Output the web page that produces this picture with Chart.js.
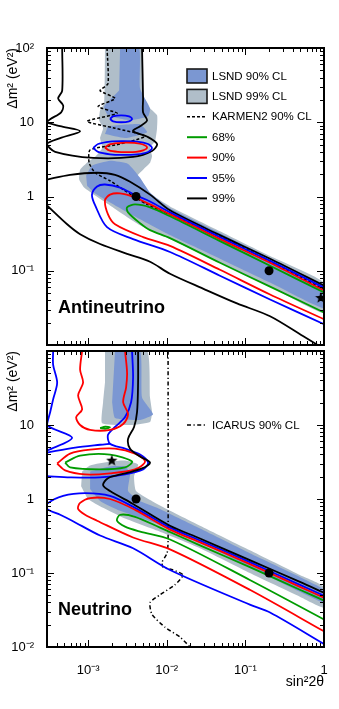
<!DOCTYPE html>
<html><head><meta charset="utf-8">
<script src="https://cdn.jsdelivr.net/npm/chart.js@4.4.1/dist/chart.umd.min.js"></script>
<style>
html,body{margin:0;padding:0;background:#fff;}
#wrap{position:relative;width:339px;height:709px;overflow:hidden;background:#fff;}
canvas{position:absolute;left:0;}
</style>
</head><body>
<div id="wrap">
<canvas id="cTop" width="339" height="352" style="top:0px;width:339px;height:352px"></canvas>
<canvas id="cBot" width="339" height="365" style="top:344px;width:339px;height:365px"></canvas>
</div>
<script>
// ---------- axis ranges and tick labels ----------
const xMin = 3.0e-4, xMax = 1;
const yMin = 0.01, yMax = 100;
const xTickValues = [1e-3, 1e-2, 1e-1, 1];
const xTickLabels = ['10⁻³', '10⁻²', '10⁻¹', '1'];
const yTickValuesTop = [0.1, 1, 10, 100];
const yTickLabelsTop = ['10⁻¹', '1', '10', '10²'];
const yTickValuesBot = [0.01, 0.1, 1, 10];
const yTickLabelsBot = ['10⁻²', '10⁻¹', '1', '10'];

// ---------- Antineutrino panel: [sin²2θ, Δm²] ----------
const antiLsnd99 = [[1.64e-3,100],[1.60e-3,17.9],[1.42e-3,14.5],[1.38e-3,10.6],[1.55e-3,8.32],[1.42e-3,6.12],[1.51e-3,4.5],[1.26e-3,3.52],[1.0e-3,2.93],[7.91e-4,2.29],[7.7e-4,1.69],[8.9e-4,1.32],[1.23e-3,1.03],[1.9e-3,0.759],[4.58e-3,0.41],[1.1e-2,0.267],[4.75e-2,0.128],[0.206,0.0612],[1.0,0.0267],[1.0,0.0692],[0.206,0.158],[4.75e-2,0.341],[1.1e-2,0.736],[5.3e-3,1.2],[3.95e-3,1.74],[5.0e-3,2.29],[6.13e-3,2.84],[6.5e-3,3.52],[6.13e-3,4.5],[7.1e-3,5.58],[7.53e-3,8.32],[7.53e-3,12.4],[5.79e-3,16.3],[5.0e-3,20.9],[4.85e-3,100]];
const antiLsnd90Strip = [[2.55e-3,100],[4.45e-3,100],[4.58e-3,28.4],[6.13e-3,15.4],[5.79e-3,12.0],[3.42e-3,10.6],[1.79e-3,12.4],[1.6e-3,16.3],[2.48e-3,26.7]];
const antiLsnd90Patch = [[1.79e-3,8.85],[4.58e-3,9.4],[5.62e-3,7.36],[2.95e-3,6.12],[1.64e-3,6.92]];
const antiLsnd90Band = [[9.44e-4,1.91],[1.12e-3,2.59],[1.9e-3,3.02],[3.22e-3,2.75],[4.58e-3,1.79],[6.13e-3,1.13],[1.1e-2,0.692],[4.75e-2,0.321],[0.206,0.149],[1,0.0612],[1,0.0311],[0.206,0.0692],[4.75e-2,0.145],[1.1e-2,0.302],[4.58e-3,0.493],[1.9e-3,0.832],[1.23e-3,1.10],[9.71e-4,1.40]];
const antiKarmen = [[1.74e-3,100],[1.79e-3,33.1],[1.42e-3,26.7],[2.2e-3,20.9],[1.34e-3,16.3],[2.33e-3,13.2],[9.71e-4,10.3],[2.2e-3,8.32],[5.3e-3,6.5],[2.55e-3,5.09],[1.06e-3,4.24],[1.03e-3,2.84],[1.23e-3,2.09],[1.9e-3,1.63],[2.79e-3,1.24],[5.62e-3,0.782],[1.35e-2,0.525],[2.65e-2,0.386],[0.114,0.185],[0.494,0.0832],[1,0.0558]];
const antiC68 = [[1,0.0509],[0.206,0.117],[4.75e-2,0.251],[1.1e-2,0.541],[6.13e-3,0.714],[3.95e-3,0.782],[3.13e-3,0.714],[3.22e-3,0.612],[4.58e-3,0.436],[6.13e-3,0.352],[1.1e-2,0.275],[4.75e-2,0.128],[0.206,0.0612],[1,0.0275]];
const antiC90 = [[1,0.0541],[0.206,0.128],[4.75e-2,0.267],[1.1e-2,0.575],[6.13e-3,0.782],[3.95e-3,0.97],[2.55e-3,1.10],[1.9e-3,1.06],[1.64e-3,0.885],[1.79e-3,0.575],[2.2e-3,0.423],[5.0e-3,0.284],[1.1e-2,0.216],[4.75e-2,0.103],[0.206,0.0479],[1,0.0222]];
const antiC90Island = [[1.64e-3,4.57],[1.85e-3,5.01],[2.4e-3,5.25],[3.04e-3,5.3],[4.07e-3,5.25],[5.0e-3,5.01],[5.62e-3,4.57],[5.0e-3,4.17],[4.07e-3,3.98],[3.04e-3,3.95],[2.4e-3,3.98],[1.85e-3,4.17],[1.64e-3,4.57]];
const antiC95 = [[1,0.0593],[0.206,0.136],[4.75e-2,0.284],[1.1e-2,0.612],[6.13e-3,0.858],[4.07e-3,1.03],[2.55e-3,1.32],[1.64e-3,1.45],[1.3e-3,1.36],[1.12e-3,1.06],[1.23e-3,0.759],[1.74e-3,0.386],[3.73e-3,0.267],[1.1e-2,0.179],[4.75e-2,0.0858],[0.206,0.041],[1,0.0191]];
const antiC95IslandA = [[1.9e-3,11.1],[2.08e-3,12.0],[2.63e-3,12.4],[3.32e-3,12.0],[3.62e-3,11.1],[3.32e-3,10.3],[2.63e-3,10.0],[2.08e-3,10.3],[1.9e-3,11.1]];
const antiC95IslandB = [[1.16e-3,4.5],[1.34e-3,5.09],[1.9e-3,5.5],[2.7e-3,5.58],[4.19e-3,5.5],[5.79e-3,5.09],[6.5e-3,4.5],[5.79e-3,3.98],[4.19e-3,3.69],[2.7e-3,3.63],[1.9e-3,3.69],[1.34e-3,3.98],[1.16e-3,4.5]];
const antiC99Upper = [[4.68e-4,100],[4.68e-4,26.7],[4.16e-4,20.9],[4.81e-4,16.9],[4.54e-4,13.6],[3.29e-4,11.0],[3.0e-4,10.0],[4.41e-4,8.85],[7.91e-4,7.59],[4.41e-4,6.12],[3.0e-4,5.09],[3.81e-4,4.0],[1.16e-3,3.31],[3.73e-3,3.41],[6.5e-3,4.1],[7.53e-3,5.09],[5.79e-3,6.31],[3.73e-3,7.59],[4.58e-3,8.85],[5.62e-3,10.6],[5.0e-3,13.6],[5.0e-3,20.9],[4.85e-3,100]];
const antiC99Mid = [[3.0e-4,1.69],[5.9e-4,1.96],[1.3e-3,2.09],[2.2e-3,1.96],[3.42e-3,1.58],[6.13e-3,1.06],[1.1e-2,0.651],[4.75e-2,0.302],[0.206,0.145],[1,0.0631]];
const antiC99Low = [[3.0e-4,0.759],[5.41e-4,0.423],[7.91e-4,0.311],[1.42e-3,0.229],[3.13e-3,0.169],[6.13e-3,0.132],[1.1e-2,0.0912],[2.89e-2,0.0575],[7.82e-2,0.0363],[0.206,0.0244],[0.54,0.0132],[0.83,0.01]];
const antiBest = [[4.07e-3,1.0],[0.2,0.1]];
const antiStar = [[0.91,0.043]];

// ---------- Neutrino panel: [sin²2θ, Δm²] ----------
const nuLsnd99Strip = [[1.64e-3,100],[5.62e-3,100],[6.13e-3,23.6],[6.5e-3,14.9],[6.13e-3,11.0],[3.42e-3,10.0],[1.51e-3,10.6],[1.55e-3,20.3],[1.64e-3,37.4]];
const nuLsnd99Band = [[8.39e-4,2.36],[1.06e-3,2.84],[1.9e-3,3.21],[2.95e-3,3.31],[4.32e-3,2.93],[3.84e-3,2.03],[4.07e-3,1.28],[7.53e-3,0.858],[2.65e-2,0.436],[0.114,0.203],[0.494,0.094],[1,0.065],[1,0.0341],[0.494,0.0479],[0.114,0.1],[2.65e-2,0.216],[7.53e-3,0.374],[2.79e-3,0.558],[1.55e-3,0.759],[1.0e-3,1.0],[8.15e-4,1.49]];
const nuLsnd90Strip = [[2.2e-3,100],[4.58e-3,100],[4.85e-3,23.6],[6.7e-3,14.0],[4.58e-3,11.7],[2.2e-3,12.4],[2.02e-3,20.3]];
const nuLsnd90Band = [[1.06e-3,2.36],[1.9e-3,2.75],[2.95e-3,2.75],[3.42e-3,2.22],[3.22e-3,1.28],[4.58e-3,0.94],[7.53e-3,0.759],[2.65e-2,0.398],[0.114,0.185],[0.494,0.0885],[1,0.0593],[1,0.0398],[0.494,0.0558],[0.114,0.12],[2.65e-2,0.259],[7.53e-3,0.464],[2.55e-3,0.692],[1.42e-3,0.94],[1.06e-3,1.36]];
const nuIcarus = [[1.04e-2,100],[1.04e-2,0.275],[1.01e-2,0.185],[8.71e-3,0.14],[8.97e-3,0.12],[1.2e-2,0.11],[1.61e-2,0.094],[1.27e-2,0.0692],[8.22e-3,0.0509],[6.13e-3,0.0398],[6.5e-3,0.0275],[9.51e-3,0.0185],[1.48e-2,0.0136],[1.98e-2,0.01]];
const nuC99 = [[4.32e-3,100],[4.32e-3,37.4],[4.19e-3,14.9],[3.84e-3,9.4],[3.22e-3,6.5],[3.42e-3,4.79],[4.58e-3,3.74],[6.13e-3,3.11],[4.85e-3,2.59],[2.95e-3,2.22],[1.79e-3,1.91],[1.55e-3,1.54],[1.9e-3,1.28],[3.73e-3,0.858],[1.1e-2,0.436],[2.65e-2,0.293],[0.114,0.149],[0.494,0.0759],[1,0.0541]];
const nuC95Left = [[3.59e-4,100],[3.59e-4,65],[4.04e-4,37.4],[3.59e-4,22.2],[3.29e-4,14.9],[3.0e-4,10.0],[6.26e-4,6.71],[3.0e-4,4.5]];
const nuC95Right = [[3.62e-3,100],[3.73e-3,43.6],[3.52e-3,20.3],[2.95e-3,12.8],[2.2e-3,9.4],[1.79e-3,7.36],[1.9e-3,5.58],[2.95e-3,4.79],[4.58e-3,3.98],[5.79e-3,3.11],[5.0e-3,2.51],[2.95e-3,2.15],[1.42e-3,1.96],[5.9e-4,1.96],[3.0e-4,2.03]];
const nuC95LobeTop = [[3.0e-4,4.24],[6.84e-4,4.94],[1.42e-3,5.41],[1.9e-3,5.58]];
const nuC95Banana = [[1,0.0494],[0.494,0.0692],[0.114,0.14],[2.65e-2,0.275],[1.1e-2,0.41],[3.95e-3,0.759],[1.9e-3,1.10],[9.16e-4,1.20],[4.81e-4,1.10],[3.0e-4,0.858],[3.0e-4,0.736],[4.41e-4,0.612],[6.26e-4,0.509],[1.42e-3,0.321],[3.73e-3,0.216],[1.1e-2,0.11],[0.114,0.0374],[0.206,0.0293],[1,0.011]];
const nuC90Upper = [[8.39e-4,100],[7.91e-4,55.8],[8.63e-4,37.4],[7.46e-4,25.1],[8.39e-4,16.3],[7.05e-4,12.8],[7.91e-4,10.0],[1.06e-3,8.58],[1.9e-3,8.58],[2.79e-3,10.3],[3.22e-3,14.0],[2.79e-3,20.3],[3.04e-3,32.1],[3.13e-3,50.9],[2.95e-3,100]];
const nuC90Island = [[4.04e-4,3.02],[5.9e-4,4.1],[1.06e-3,4.64],[2.2e-3,4.79],[3.95e-3,4.1],[5.3e-3,3.21],[3.95e-3,2.51],[1.9e-3,2.22],[9.16e-4,2.15],[5.1e-4,2.44],[4.04e-4,3.02]];
const nuC90Banana = [[1,0.0464],[0.494,0.065],[0.114,0.132],[2.65e-2,0.259],[1.1e-2,0.386],[3.95e-3,0.714],[1.9e-3,1.0],[1.06e-3,1.03],[7.91e-4,0.885],[7.46e-4,0.736],[9.16e-4,0.612],[1.3e-3,0.509],[3.73e-3,0.302],[1.1e-2,0.209],[0.114,0.0593],[1,0.0163]];
const nuC68Island = [[5.1e-4,3.11],[7.91e-4,3.86],[1.9e-3,3.98],[3.62e-3,3.21],[2.95e-3,2.67],[1.42e-3,2.51],[5.9e-4,2.67],[5.1e-4,3.11]];
const nuC68Small = [[1.42e-3,9.1],[1.65e-3,9.5],[1.9e-3,9.3],[1.65e-3,8.9],[1.42e-3,9.1]];
const nuC68Banana = [[1,0.0424],[0.494,0.0593],[0.114,0.12],[2.65e-2,0.236],[8.22e-3,0.41],[3.95e-3,0.575],[2.55e-3,0.612],[2.33e-3,0.509],[2.95e-3,0.423],[4.58e-3,0.363],[1.1e-2,0.284],[0.114,0.0806],[1,0.0236]];
const nuBest = [[4.07e-3,1.0],[0.2,0.1]];
const nuStar = [[2.0e-3,3.3]];

// ---------- styles ----------
const FONT = '"Liberation Sans", Arial, Helvetica, sans-serif';
const C_L90 = '#7b97d2', C_L99 = '#b0bec9';
const C_GREEN = '#009c00', C_RED = '#ff0000', C_BLUE = '#0000ff', C_BLACK = '#000000';
Chart.defaults.font.family = FONT;
Chart.defaults.color = '#000';

function makeStar(r) {
  const c = document.createElement('canvas');
  c.width = c.height = 2 * r + 2;
  const g = c.getContext('2d');
  g.beginPath();
  for (let i = 0; i < 10; i++) {
    const ang = -Math.PI / 2 + i * Math.PI / 5;
    const rr = i % 2 === 0 ? r : r * 0.42;
    g.lineTo(r + 1 + rr * Math.cos(ang), r + 1 + rr * Math.sin(ang));
  }
  g.closePath(); g.fillStyle = '#000'; g.fill();
  return c;
}
const starImg = makeStar(6);

function fillDs(data, color, order) {
  return {data, showLine: true, fill: 'shape', backgroundColor: color, borderColor: 'rgba(0,0,0,0)',
    borderWidth: 0, pointRadius: 0, tension: 0.15, order};
}
function lineDs(data, color, extra) {
  return Object.assign({data, showLine: true, fill: false, borderColor: color, borderWidth: 1.8,
    pointRadius: 0, tension: 0.3, order: 5}, extra || {});
}
function dotDs(data) {
  return {data, showLine: false, pointRadius: 4.5, pointBackgroundColor: '#000', pointBorderWidth: 0, order: 0};
}
function starDs(data) {
  return {data, showLine: false, pointStyle: starImg, pointRadius: 6, order: 0};
}

const frameTicks = {
  id: 'frameTicks',
  afterDatasetsDraw(chart) {
    const {ctx, chartArea: a, scales: {x, y}} = chart;
    ctx.save();
    ctx.strokeStyle = '#000'; ctx.lineWidth = 1;
    ctx.beginPath();
    for (let e = -4; e <= 0; e++) for (let m = 1; m <= 9; m++) {
      const v = m * Math.pow(10, e);
      if (v < xMin * 0.999 || v > xMax * 1.001) continue;
      const px = Math.round(x.getPixelForValue(v)) + 0.5;
      const L = m === 1 ? 7 : 4;
      ctx.moveTo(px, a.bottom); ctx.lineTo(px, a.bottom - L);
      ctx.moveTo(px, a.top); ctx.lineTo(px, a.top + L);
    }
    for (let e = -2; e <= 2; e++) for (let m = 1; m <= 9; m++) {
      const v = m * Math.pow(10, e);
      if (v < yMin * 0.999 || v > yMax * 1.001) continue;
      const py = Math.round(y.getPixelForValue(v)) + 0.5;
      const L = m === 1 ? 7 : 4;
      ctx.moveTo(a.left, py); ctx.lineTo(a.left + L, py);
      ctx.moveTo(a.right, py); ctx.lineTo(a.right - L, py);
    }
    ctx.stroke();
    ctx.lineWidth = 2;
    ctx.strokeRect(a.left, a.top, a.right - a.left, a.bottom - a.top);
    ctx.restore();
  }
};

function makeDecor(label, labelDy, items, legendY) {
  return {
    id: 'decor',
    afterDraw(chart) {
      const {ctx, chartArea: a} = chart;
      ctx.save();
      ctx.fillStyle = '#000';
      ctx.font = 'bold 18px ' + FONT;
      ctx.textAlign = 'left'; ctx.textBaseline = 'alphabetic';
      ctx.fillText(label, a.left + 11, a.top + labelDy);
      ctx.font = '11.5px ' + FONT;
      ctx.textBaseline = 'middle';
      items.forEach((it, i) => {
        const yc = a.top + legendY + i * 20.4;
        const x0 = a.left + 140, x1 = x0 + 20;
        if (it.box) {
          ctx.fillStyle = it.color; ctx.fillRect(x0, yc - 7, 20, 14);
          ctx.lineWidth = 1.6; ctx.strokeStyle = '#1a1a1a'; ctx.strokeRect(x0, yc - 7, 20, 14);
        } else {
          ctx.beginPath(); ctx.setLineDash(it.dash || []);
          ctx.lineWidth = it.width || 2; ctx.strokeStyle = it.color;
          ctx.moveTo(x0, yc); ctx.lineTo(x1, yc); ctx.stroke(); ctx.setLineDash([]);
        }
        ctx.fillStyle = '#000';
        ctx.fillText(it.text, x0 + 25, yc + 0.5);
      });
      ctx.restore();
    }
  };
}

const legendTop = [
  {text: 'LSND 90% CL', box: true, color: C_L90},
  {text: 'LSND 99% CL', box: true, color: C_L99},
  {text: 'KARMEN2 90% CL', color: '#000', dash: [3, 2], width: 1.5},
  {text: '68%', color: C_GREEN},
  {text: '90%', color: C_RED},
  {text: '95%', color: C_BLUE},
  {text: '99%', color: C_BLACK}
];
const legendBot = [
  {text: 'ICARUS 90% CL', color: '#000', dash: [4, 2.5, 1.2, 2.5], width: 1.5}
];

function yScale(values, labels) {
  return {
    type: 'logarithmic', min: yMin, max: yMax,
    afterFit(s) { s.width = 47; s.paddingTop = 0; s.paddingBottom = 0; },
    afterBuildTicks(s) { s.ticks = values.map(v => ({value: v})); },
    ticks: {callback: (v, i) => labels[i], autoSkip: false, padding: 5, font: {family: FONT, size: 13}, color: '#000'},
    grid: {display: false}, border: {display: false},
    title: {display: true, text: 'Δm² (eV²)', align: 'end', color: '#000', font: {family: FONT, size: 14}, padding: {top: 5, bottom: 0}}
  };
}

const common = {
  responsive: false, animation: false, devicePixelRatio: 1,
  plugins: {legend: {display: false}, tooltip: {enabled: false}}
};

new Chart(document.getElementById('cTop'), {
  type: 'scatter',
  data: {datasets: [
    fillDs(antiLsnd99, C_L99, 20),
    fillDs(antiLsnd90Strip, C_L90, 19),
    fillDs(antiLsnd90Patch, C_L90, 19),
    fillDs(antiLsnd90Band, C_L90, 19),
    lineDs(antiKarmen, '#000', {borderDash: [3, 2], borderWidth: 1.5, tension: 0.2, order: 8}),
    lineDs(antiC99Upper, C_BLACK, {order: 7}),
    lineDs(antiC99Mid, C_BLACK, {order: 7}),
    lineDs(antiC99Low, C_BLACK, {order: 7}),
    lineDs(antiC95, C_BLUE, {order: 6}),
    lineDs(antiC95IslandA, C_BLUE, {order: 6}),
    lineDs(antiC95IslandB, C_BLUE, {order: 6}),
    lineDs(antiC90, C_RED, {order: 5}),
    lineDs(antiC90Island, C_RED, {order: 5}),
    lineDs(antiC68, C_GREEN, {order: 4}),
    dotDs(antiBest),
    starDs(antiStar)
  ]},
  options: Object.assign({}, common, {
    layout: {padding: {top: 48, right: 15, bottom: 4, left: 0}},
    scales: {
      x: {type: 'logarithmic', min: xMin, max: xMax, display: false},
      y: yScale(yTickValuesTop, yTickLabelsTop)
    }
  }),
  plugins: [frameTicks, makeDecor('Antineutrino', 265, legendTop, 28)]
});

new Chart(document.getElementById('cBot'), {
  type: 'scatter',
  data: {datasets: [
    fillDs(nuLsnd99Strip, C_L99, 20),
    fillDs(nuLsnd99Band, C_L99, 20),
    fillDs(nuLsnd90Strip, C_L90, 19),
    fillDs(nuLsnd90Band, C_L90, 19),
    lineDs(nuIcarus, '#000', {borderDash: [4, 2.5, 1.2, 2.5], borderWidth: 1.5, tension: 0.2, order: 8}),
    lineDs(nuC99, C_BLACK, {order: 4}),
    lineDs(nuC95Left, C_BLUE, {order: 6}),
    lineDs(nuC95Right, C_BLUE, {order: 6}),
    lineDs(nuC95LobeTop, C_BLUE, {order: 6}),
    lineDs(nuC95Banana, C_BLUE, {order: 6}),
    lineDs(nuC90Upper, C_RED, {order: 5}),
    lineDs(nuC90Island, C_RED, {order: 5}),
    lineDs(nuC90Banana, C_RED, {order: 5}),
    lineDs(nuC68Island, C_GREEN, {order: 5}),
    lineDs(nuC68Small, C_GREEN, {order: 5}),
    lineDs(nuC68Banana, C_GREEN, {order: 5}),
    dotDs(nuBest),
    starDs(nuStar)
  ]},
  options: Object.assign({}, common, {
    layout: {padding: {top: 4, right: 15, bottom: 0, left: 0}},
    scales: {
      x: {
        type: 'logarithmic', min: xMin, max: xMax, position: 'bottom',
        afterFit(s) { s.height = 62; s.paddingLeft = 0; s.paddingRight = 0; },
        afterBuildTicks(s) { s.ticks = xTickValues.map(v => ({value: v})); },
        ticks: {callback: (v, i) => xTickLabels[i], autoSkip: false, maxRotation: 0, padding: 8, font: {family: FONT, size: 13}, color: '#000'},
        grid: {display: false}, border: {display: false},
        title: {display: true, text: 'sin²2θ', align: 'end', color: '#000', font: {family: FONT, size: 14}, padding: {top: 0, bottom: 18}}
      },
      y: yScale(yTickValuesBot, yTickLabelsBot)
    }
  }),
  plugins: [frameTicks, makeDecor('Neutrino', 264, legendBot, 74)]
});
</script>
</body></html>
